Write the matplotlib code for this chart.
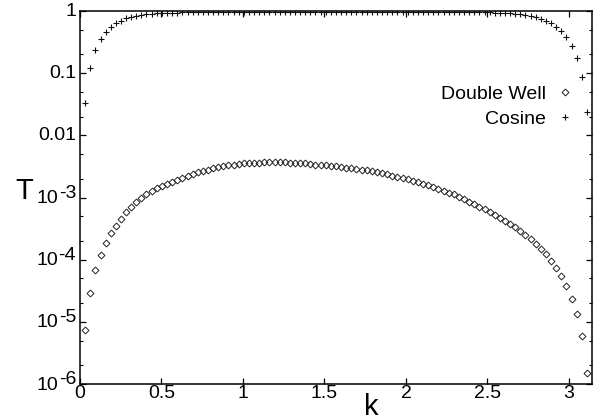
import numpy as np
import matplotlib
matplotlib.use("Agg")
import matplotlib.pyplot as plt
from matplotlib import transforms

plt.rcParams['font.family'] = ['Liberation Sans', 'DejaVu Sans']

# wave number k (x values of both series)
k = [0.031, 0.063, 0.094, 0.126, 0.157, 0.188, 0.220, 0.251, 0.283, 0.314,
     0.346, 0.377, 0.408, 0.440, 0.471, 0.503, 0.534, 0.565, 0.597, 0.628,
     0.660, 0.691, 0.723, 0.754, 0.785, 0.817, 0.848, 0.880, 0.911, 0.942,
     0.974, 1.005, 1.037, 1.068, 1.100, 1.131, 1.162, 1.194, 1.225, 1.257,
     1.288, 1.319, 1.351, 1.382, 1.414, 1.445, 1.477, 1.508, 1.539, 1.571,
     1.602, 1.634, 1.665, 1.696, 1.728, 1.759, 1.791, 1.822, 1.854, 1.885,
     1.916, 1.948, 1.979, 2.011, 2.042, 2.073, 2.105, 2.136, 2.168, 2.199,
     2.231, 2.262, 2.293, 2.325, 2.356, 2.388, 2.419, 2.450, 2.482, 2.513,
     2.545, 2.576, 2.608, 2.639, 2.670, 2.702, 2.733, 2.765, 2.796, 2.827,
     2.859, 2.890, 2.922, 2.953, 2.985, 3.016, 3.047, 3.079, 3.110]

# log10 of transmission, Double Well
double_well_log10T = [
    -5.13, -4.53, -4.16, -3.93, -3.73, -3.57, -3.46, -3.34, -3.24, -3.16,
    -3.08, -3.01, -2.95, -2.89, -2.85, -2.81, -2.78, -2.75, -2.72, -2.69,
    -2.65, -2.62, -2.59, -2.57, -2.55, -2.53, -2.51, -2.49, -2.48, -2.47,
    -2.46, -2.45, -2.45, -2.44, -2.44, -2.43, -2.43, -2.43, -2.43, -2.43,
    -2.44, -2.44, -2.45, -2.45, -2.46, -2.47, -2.47, -2.48, -2.49, -2.50,
    -2.51, -2.52, -2.53, -2.54, -2.55, -2.56, -2.58, -2.59, -2.61, -2.63,
    -2.65, -2.67, -2.69, -2.71, -2.73, -2.75, -2.78, -2.80, -2.83, -2.86,
    -2.89, -2.92, -2.95, -2.99, -3.03, -3.07, -3.11, -3.15, -3.19, -3.23,
    -3.28, -3.33, -3.38, -3.43, -3.48, -3.54, -3.60, -3.67, -3.74, -3.83,
    -3.91, -4.02, -4.14, -4.27, -4.43, -4.63, -4.87, -5.22, -5.83]

# log10 of transmission, Cosine
cosine_log10T = [
    -1.48, -0.91, -0.63, -0.45, -0.33, -0.25, -0.20, -0.155, -0.12, -0.10,
    -0.08, -0.065, -0.055, -0.045, -0.040, -0.035, -0.030, -0.027, -0.025, -0.022,
    -0.020, -0.020, -0.019, -0.018, -0.018, -0.017, -0.017, -0.016, -0.016, -0.016,
    -0.015, -0.015, -0.015, -0.015, -0.015, -0.015, -0.015, -0.015, -0.015, -0.015,
    -0.015, -0.015, -0.015, -0.015, -0.015, -0.015, -0.015, -0.015, -0.015, -0.015,
    -0.015, -0.015, -0.015, -0.015, -0.015, -0.015, -0.015, -0.015, -0.015, -0.015,
    -0.015, -0.015, -0.015, -0.015, -0.015, -0.016, -0.016, -0.016, -0.017, -0.017,
    -0.018, -0.018, -0.019, -0.019, -0.020, -0.020, -0.021, -0.021, -0.022, -0.022,
    -0.025, -0.028, -0.032, -0.037, -0.043, -0.050, -0.060, -0.075, -0.095, -0.125,
    -0.16, -0.20, -0.26, -0.32, -0.42, -0.56, -0.75, -1.06, -1.62]

x_ticks = [0, 0.5, 1, 1.5, 2, 2.5, 3]
x_tick_labels = ["0", "0.5", "1", "1.5", "2", "2.5", "3"]
y_ticks = [1e-6, 1e-5, 1e-4, 1e-3, 1e-2, 1e-1, 1]
y_tick_labels = [("10", "-6"), ("10", "-5"), ("10", "-4"), ("10", "-3"),
                 ("0.01", None), ("0.1", None), ("1", None)]

dw_T = 10 ** np.array(double_well_log10T)
cos_T = 10 ** np.array(cosine_log10T)

FS = 14

fig = plt.figure(figsize=(6.08, 4.20), dpi=100)
ax = fig.add_axes([80/608, 1-384/420, 512/608, 373/420])

ax.plot(k, dw_T, linestyle='none', marker='D', markersize=3.5,
        markerfacecolor='none', markeredgecolor='#222222', markeredgewidth=0.7,
        label='Double Well')
ax.plot(k, cos_T, linestyle='none', marker='+', markersize=5,
        color='#111111', markeredgewidth=0.8, label='Cosine')

ax.set_yscale('log')
ax.set_xlim(0, np.pi)
ax.set_ylim(1e-6, 1)

for s in ax.spines.values():
    s.set_linewidth(1.1)

ax.set_xticks(x_ticks)
ax.set_xticklabels(x_tick_labels, fontsize=FS)
ax.set_yticks(y_ticks)
ax.set_yticklabels([''] * len(y_ticks))
ax.yaxis.set_minor_locator(matplotlib.ticker.LogLocator(base=10, subs=(2.0, 5.0)))
ax.yaxis.set_minor_formatter(matplotlib.ticker.NullFormatter())
ax.tick_params(which='both', direction='in', top=True, right=True)
ax.tick_params(which='major', length=4, width=0.9, pad=1)
ax.tick_params(which='minor', length=2.5, width=0.8)

# y tick labels (with raised exponents)
fig.canvas.draw()
renderer = fig.canvas.get_renderer()
base = transforms.blended_transform_factory(ax.transAxes, ax.transData)
for yv, (main, exp) in zip(y_ticks, y_tick_labels):
    if exp is None:
        t = transforms.offset_copy(base, fig=fig, x=-4, y=0, units='dots')
        ax.text(0, yv, main, transform=t, ha='right', va='center', fontsize=FS)
    else:
        t1 = transforms.offset_copy(base, fig=fig, x=-4, y=4, units='dots')
        e = ax.text(0, yv, exp, transform=t1, ha='right', va='center', fontsize=FS)
        w = e.get_window_extent(renderer).width
        t2 = transforms.offset_copy(base, fig=fig, x=-4 - w, y=-1, units='dots')
        ax.text(0, yv, main, transform=t2, ha='right', va='center', fontsize=FS)

fig.text(24/608, 1-191/420, 'T', fontsize=21, ha='center', va='center')
fig.text(371/608, 1-407/420, 'k', fontsize=21, ha='center', va='center')

leg = ax.legend(loc='upper right', bbox_to_anchor=(0.978, 0.822), frameon=False,
                markerfirst=False, numpoints=1, handlelength=0.8, handletextpad=0.6,
                labelspacing=0.4, fontsize=FS, borderaxespad=0)

fig.savefig('out.png', dpi=100)
